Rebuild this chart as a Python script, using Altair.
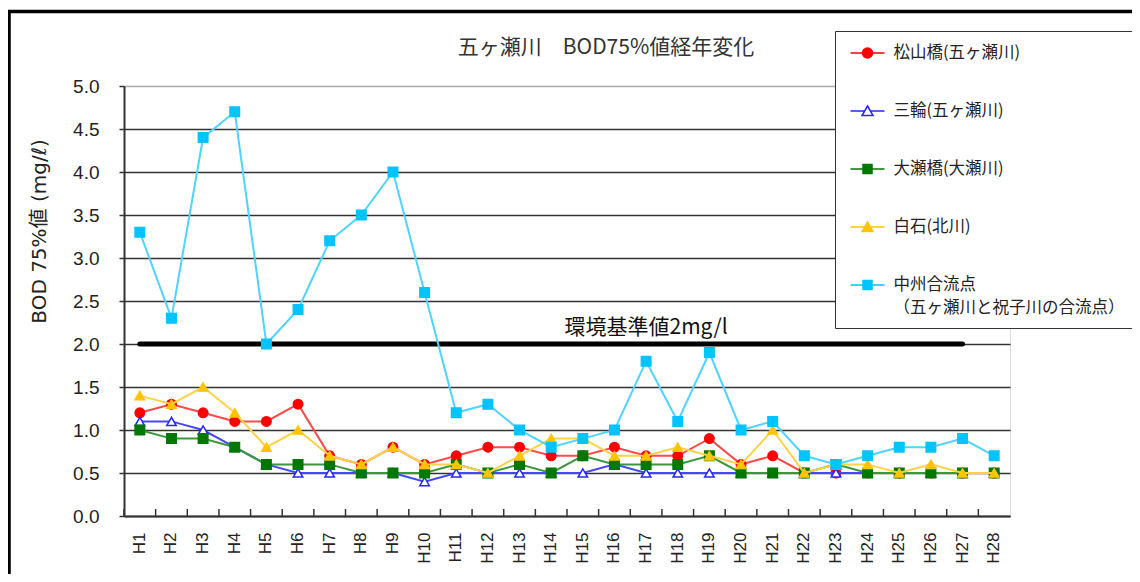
import altair as alt
import pandas as pd

# ---------------- data ----------------
years = ["H1", "H2", "H3", "H4", "H5", "H6", "H7", "H8", "H9", "H10",
         "H11", "H12", "H13", "H14", "H15", "H16", "H17", "H18", "H19", "H20",
         "H21", "H22", "H23", "H24", "H25", "H26", "H27", "H28"]

series_names = ["松山橋(五ヶ瀬川)", "三輪(五ヶ瀬川)", "大瀬橋(大瀬川)", "白石(北川)",
                "中州合流点\n（五ヶ瀬川と祝子川の合流点）"]

matsuyama = [1.2, 1.3, 1.2, 1.1, 1.1, 1.3, 0.7, 0.6, 0.8, 0.6, 0.7, 0.8, 0.8, 0.7,
             0.7, 0.8, 0.7, 0.7, 0.9, 0.6, 0.7, 0.5, 0.5, 0.5, 0.5, 0.5, 0.5, 0.5]
miwa = [1.1, 1.1, 1.0, 0.8, 0.6, 0.5, 0.5, 0.5, 0.5, 0.4, 0.5, 0.5, 0.5, 0.5,
        0.5, 0.6, 0.5, 0.5, 0.5, 0.5, 0.5, 0.5, 0.5, 0.5, 0.5, 0.5, 0.5, 0.5]
osebashi = [1.0, 0.9, 0.9, 0.8, 0.6, 0.6, 0.6, 0.5, 0.5, 0.5, 0.6, 0.5, 0.6, 0.5,
            0.7, 0.6, 0.6, 0.6, 0.7, 0.5, 0.5, 0.5, 0.6, 0.5, 0.5, 0.5, 0.5, 0.5]
shiraishi = [1.4, 1.3, 1.5, 1.2, 0.8, 1.0, 0.7, 0.6, 0.8, 0.6, 0.6, 0.5, 0.7, 0.9,
             0.9, 0.7, 0.7, 0.8, 0.7, 0.6, 1.0, 0.5, 0.6, 0.6, 0.5, 0.6, 0.5, 0.5]
nakasu = [3.3, 2.3, 4.4, 4.7, 2.0, 2.4, 3.2, 3.5, 4.0, 2.6, 1.2, 1.3, 1.0, 0.8,
          0.9, 1.0, 1.8, 1.1, 1.9, 1.0, 1.1, 0.7, 0.6, 0.7, 0.8, 0.8, 0.9, 0.7]

y_ticks = [0.0, 0.5, 1.0, 1.5, 2.0, 2.5, 3.0, 3.5, 4.0, 4.5, 5.0]

ref_value = 2.0
ref_start = "H1"
ref_end = "H27"
ref_label = "環境基準値2mg/l"
ref_label_year = "H17"

title_text = "五ヶ瀬川　BOD75%値経年変化"
y_title = "BOD 75%値 (mg/ℓ)"

# ---------------- styles ----------------
line_colors = ["#ff4a4a", "#4646ff", "#3c963c", "#ffd24a", "#4fd3ff"]
marker_colors = ["#ff0000", "#2626ff", "#007800", "#ffc400", "#00c4ff"]
marker_fills = ["#ff0000", "#ffffff", "#007800", "#ffc400", "#00c4ff"]
marker_shapes = ["circle", "triangle-up", "square", "triangle-up", "square"]

# legend symbols: short line with the marker in its middle (unit = 10 px at size 400)
CIRC = ("M-1.7,0L-0.5,0M0.5,0L1.7,0"
        "M-0.5,0C-0.5,-0.276 -0.276,-0.5 0,-0.5C0.276,-0.5 0.5,-0.276 0.5,0"
        "C0.5,0.276 0.276,0.5 0,0.5C-0.276,0.5 -0.5,0.276 -0.5,0Z")
TRI = "M-1.7,0L-0.27,0M0.27,0L1.7,0M0,-0.5L0.55,0.45L-0.55,0.45Z"
SQR = "M-1.7,0L-0.45,0M0.45,0L1.7,0M-0.45,-0.45L0.45,-0.45L0.45,0.45L-0.45,0.45Z"
legend_symbols = [CIRC, TRI, SQR, TRI, SQR]

JP = "Noto Sans CJK JP"
LAT = "Liberation Sans"
WIDE = "DejaVu Sans, Noto Sans CJK JP"

PW, PH = 886, 430

rows = []
for name, vals in zip(series_names, [matsuyama, miwa, osebashi, shiraishi, nakasu]):
    for yr, v in zip(years, vals):
        rows.append({"year": yr, "series": name, "value": v})
df = pd.DataFrame(rows)

ref_df = pd.DataFrame({"year": [ref_start, ref_end], "value": [ref_value, ref_value]})
ref_txt_df = pd.DataFrame({"year": [ref_label_year], "value": [ref_value], "label": [ref_label]})
tick_df = pd.DataFrame({"year": years})
frame_df = pd.DataFrame({"k": [0]})

x_scale = alt.Scale(domain=years, type="band", paddingInner=0, paddingOuter=0)
y_scale = alt.Scale(domain=[0, 5], nice=False, zero=True)

x_axis = alt.Axis(title=None, labelAngle=-90, labelAlign="right", labelBaseline="middle",
                  labelFont=LAT, labelFontSize=17, labelColor="#222", labelPadding=16,
                  ticks=False, domainColor="#333", domainWidth=2, grid=False)
y_axis = alt.Axis(title=y_title, values=y_ticks, format=".1f",
                  labelFont=LAT, labelFontSize=19, labelColor="#222", labelPadding=20,
                  tickSize=5, tickColor="#333", tickWidth=1.5,
                  domainColor="#333", domainWidth=2,
                  grid=True,
                  gridColor=alt.condition("datum.value >= 5", alt.value("#aaaaaa"), alt.value("#333333")),
                  gridWidth=1.5,
                  titleFont=WIDE, titleFontSize=20, titleFontWeight="normal", titleColor="#222",
                  titleAngle=-90, titleX=-85, titleY=145, titleAlign="center",
                  titleBaseline="middle")

X = alt.X("year:N", scale=x_scale, axis=x_axis)
Y = alt.Y("value:Q", scale=y_scale, axis=y_axis)

label_expr = "split(datum.label, '\\n')"

legend_spec = alt.Legend(title=None, orient="none", legendX=711, legendY=-55, padding=11,
                         symbolSize=400, symbolStrokeWidth=1.5, symbolOpacity=1,
                         symbolOffset=10.5, labelOffset=15,
                         labelFont=JP, labelFontSize=16.5, labelColor="#222",
                         labelLimit=400, labelExpr=label_expr, rowPadding=38,
                         strokeColor="#333", fillColor="white")

frame = alt.Chart(frame_df).mark_rect(stroke="black", strokeWidth=3.5, fillOpacity=0).encode(
    x=alt.value(-115), x2=alt.value(1400), y=alt.value(-74.5), y2=alt.value(900))

ticks = alt.Chart(tick_df).mark_rule(color="#333", strokeWidth=1.5).encode(
    x=alt.X("year:N", scale=x_scale, axis=x_axis, bandPosition=0),
    y=alt.value(PH), y2=alt.value(PH - 7))

ref_line = alt.Chart(ref_df).mark_line(color="black", strokeWidth=5, strokeCap="round").encode(
    x=X, y=Y)

# one line + marker layer pair per series (drawn in series order, like the original)
series_layers = []
for name, lc, col, fil, shp in zip(series_names, line_colors, marker_colors, marker_fills,
                                   marker_shapes):
    base = alt.Chart(df).transform_filter(alt.datum.series == name)
    series_layers.append(base.mark_line(color=lc, strokeWidth=2).encode(x=X, y=Y))
    series_layers.append(base.mark_point(shape=shp, size=90, stroke=col, fill=fil,
                                         strokeWidth=1.5, opacity=1, filled=True
                                         ).encode(x=X, y=Y))

# layer of zero-size points that only supplies the legend (line + marker symbols)
legend_layer = alt.Chart(df).mark_point(filled=False, size=0, opacity=1).encode(
    x=X, y=Y,
    color=alt.Color("series:N", scale=alt.Scale(domain=series_names, range=marker_colors),
                    legend=legend_spec),
    fill=alt.Fill("series:N", scale=alt.Scale(domain=series_names, range=marker_fills),
                  legend=legend_spec),
    shape=alt.Shape("series:N", scale=alt.Scale(domain=series_names, range=legend_symbols),
                    legend=legend_spec))

ref_text = alt.Chart(ref_txt_df).mark_text(font=JP, fontSize=21, color="#111", dy=-16,
                                           align="center", baseline="middle").encode(
    x=X, y=Y, text="label:N")

chart = alt.layer(frame, ticks, ref_line, *series_layers, ref_text, legend_layer).properties(
    width=PW, height=PH,
    padding={"left": 116, "top": 78, "right": 122, "bottom": 58},
    autosize=alt.AutoSizeParams(type="none"),
    title=alt.TitleParams(text=title_text, font=JP, fontSize=21, fontWeight="normal",
                          color="#333", anchor="middle", dx=39, offset=-69, frame="group",
                          baseline="bottom"),
).configure_view(stroke="#999", strokeWidth=1.5).configure(
    background="white", style={"guide-label": {"lineHeight": 23}})

chart.save("out.html", embed_options={"renderer": "svg", "actions": False})
